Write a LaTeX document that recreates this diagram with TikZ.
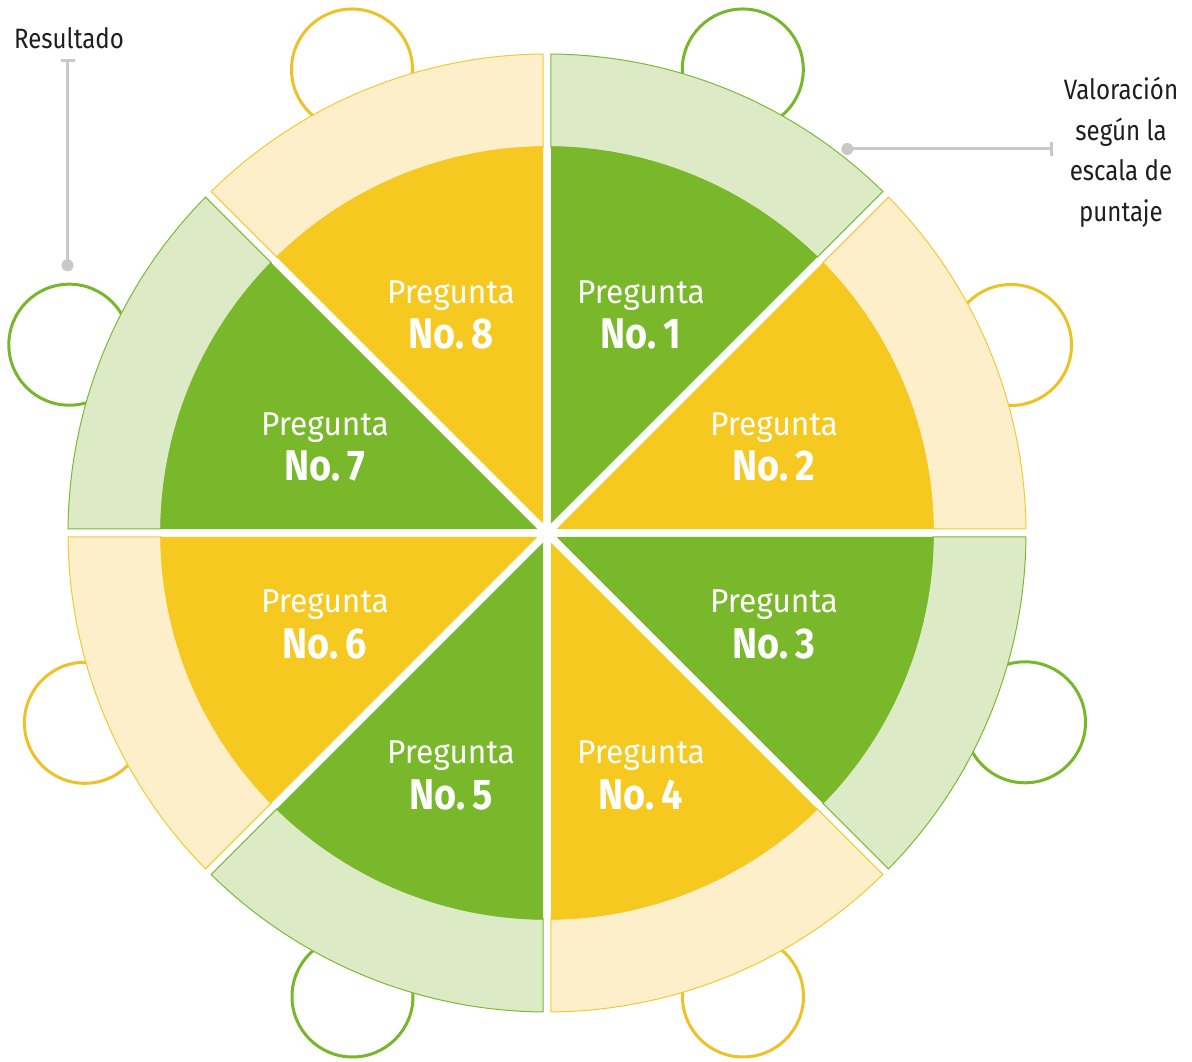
\documentclass[tikz,border=0pt]{standalone}
\usepackage{fontspec}
\newfontfamily\labfont{Fira Sans}[FakeStretch=0.96]
\newfontfamily\labbold{Fira Sans}[FakeStretch=0.88]
\newfontfamily\annfont{Fira Sans}[FakeStretch=0.86]
\definecolor{gr}{HTML}{78B82A}
\definecolor{ye}{HTML}{F5C920}
\definecolor{lgr}{HTML}{DCEAC6}
\definecolor{lye}{HTML}{FDEFC9}
\definecolor{gro}{HTML}{7DB935}
\definecolor{yeo}{HTML}{F2C933}
\definecolor{cgr}{HTML}{76B82A}
\definecolor{cye}{HTML}{EEC227}
\definecolor{gry}{HTML}{C8C8CA}
\definecolor{txt}{HTML}{1E1E1E}
\begin{document}
\begin{tikzpicture}[x=1pt,y=1pt,
  seat/.style={draw, line width=3pt, circle, minimum size=121pt, inner sep=0pt},
  qa/.style={anchor=base, text=white, inner sep=0pt, font=\labfont\fontsize{33}{40}\selectfont},
  qb/.style={anchor=base, text=white, inner sep=0pt, font=\labbold\bfseries\fontsize{43}{50}\selectfont},
  ann/.style={anchor=base, text=txt, inner sep=0pt, font=\annfont\fontsize{28}{34}\selectfont},
  gdot/.style={circle, fill=gry, minimum size=12pt, inner sep=0pt},
  gline/.style={draw=gry, line width=3pt}]
\useasboundingbox (0,0) rectangle (1192,1062);
% seats (circles)
\node[seat, draw=cgr] (c1) at (742.8,992.5) {};
\node[seat, draw=cye] (c2) at (1011,717) {};
\node[seat, draw=cgr] (c3) at (1025,339.7) {};
\node[seat, draw=cye] (c4) at (743,65.5) {};
\node[seat, draw=cgr] (c5) at (352.5,65.5) {};
\node[seat, draw=cye] (c6) at (84.9,339.2) {};
\node[seat, draw=cgr] (c7) at (69.3,717.3) {};
\node[seat, draw=cye] (c8) at (352,992.5) {};
% rings and pie
\begin{scope}[shift={(547pt,529pt)}]
\foreach \ang/\fc/\lc/\oc in {0/ye/lye/yeo,45/gr/lgr/gro,90/ye/lye/yeo,135/gr/lgr/gro,180/ye/lye/yeo,225/gr/lgr/gro,270/ye/lye/yeo,315/gr/lgr/gro}{
  \pgfmathsetmacro\angSo{\ang+0.478}
  \pgfmathsetmacro\angEo{\ang+45-0.478}
  \pgfmathsetmacro\angSi{\ang+0.593}
  \pgfmathsetmacro\angEi{\ang+45-0.593}
  \filldraw[fill=\lc, draw=\oc, line width=1pt] (\angSo:479pt) arc[start angle=\angSo, end angle=\angEo, radius=479pt] -- (\angEi:386pt) arc[start angle=\angEi, end angle=\angSi, radius=386pt] -- cycle;
}
\foreach \ang/\fc in {0/ye,45/gr,90/ye,135/gr,180/ye,225/gr,270/ye,315/gr}{
  \pgfmathsetmacro\angSi{\ang+0.593}
  \pgfmathsetmacro\angEi{\ang+45-0.593}
  \pgfmathsetmacro\angMid{\ang+22.5}
  \fill[\fc] (\angMid:10.45pt) -- (\angSi:386.8pt) arc[start angle=\angSi, end angle=\angEi, radius=386.8pt] -- cycle;
}
\end{scope}
% labels
\node[qa] (q1a) at (641,758) {Pregunta};
\node[qb] (q1b) at (641,713) {No.\,1};
\node[qa] (q2a) at (774,626) {Pregunta};
\node[qb] (q2b) at (774,581) {No.\,2};
\node[qa] (q3a) at (774,449) {Pregunta};
\node[qb] (q3b) at (774,403) {No.\,3};
\node[qa] (q4a) at (641,298) {Pregunta};
\node[qb] (q4b) at (641,252) {No.\,4};
\node[qa] (q5a) at (451,298) {Pregunta};
\node[qb] (q5b) at (451,252) {No.\,5};
\node[qa] (q6a) at (325,449) {Pregunta};
\node[qb] (q6b) at (325,403) {No.\,6};
\node[qa] (q7a) at (325,626) {Pregunta};
\node[qb] (q7b) at (325,581) {No.\,7};
\node[qa] (q8a) at (451,758) {Pregunta};
\node[qb] (q8b) at (451,713) {No.\,8};
% annotation: Resultado
\node[ann] (res) at (69,1013) {Resultado};
\coordinate (t1) at (67.5,1001.5);
\node[gdot] (d1) at (67.5,796.7) {};
\draw[gline] (d1.center) -- (t1);
\draw[gline] ([xshift=-7pt]t1) -- ([xshift=7pt]t1);
% annotation: Valoracion
\node[ann] (v1) at (1121,962) {Valoración};
\node[ann] (v2) at (1121,921.5) {según la};
\node[ann] (v3) at (1121,881) {escala de};
\node[ann] (v4) at (1121,840.5) {puntaje};
\coordinate (t2) at (1051,913);
\node[gdot] (d2) at (847.3,913) {};
\draw[gline] (d2.center) -- (t2);
\draw[gline] ([yshift=-7pt]t2) -- ([yshift=7pt]t2);
\end{tikzpicture}
\end{document}
